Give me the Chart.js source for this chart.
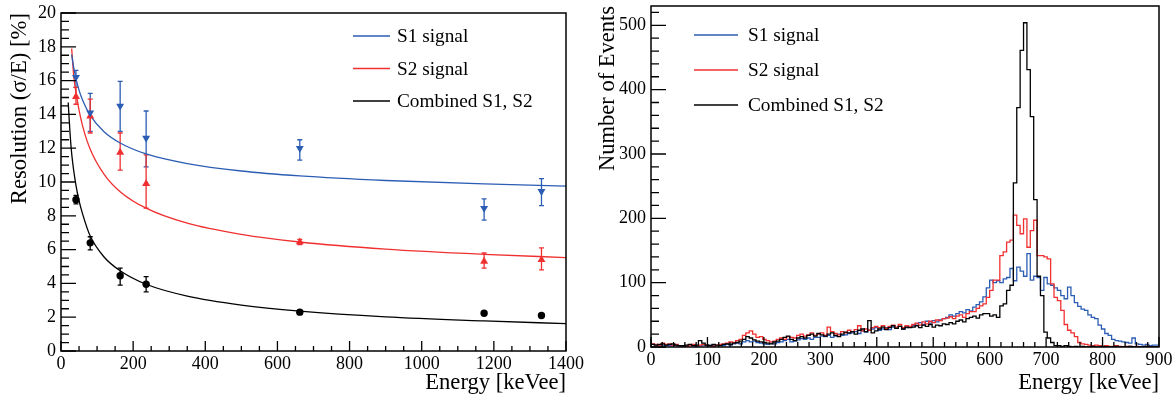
<!DOCTYPE html>
<html>
<head>
<meta charset="utf-8">
<script src="https://cdn.jsdelivr.net/npm/chart.js@4.4.0/dist/chart.umd.min.js"></script>
<style>
html,body{margin:0;padding:0;background:#fff;}
#wrap{position:relative;width:1175px;height:398px;overflow:hidden;}
#leftBox{position:absolute;left:0;top:0;width:590px;height:398px;}
#rightBox{position:absolute;left:590px;top:0;width:585px;height:398px;}
</style>
</head>
<body>
<div id="wrap">
  <div id="leftBox"><canvas id="left" width="590" height="398"></canvas></div>
  <div id="rightBox"><canvas id="right" width="585" height="398"></canvas></div>
</div>
<script>
// ---------------- LEFT PANEL DATA ----------------
const energies = [41.5, 81, 164, 236, 662, 1173, 1332];
const s1Res    = [16.2, 14.1, 14.5, 12.6, 12.0, 8.45, 9.45];
const s1ErrLo  = [15.6, 13.0, 13.0, 10.9, 11.3, 7.75, 8.6];
const s1ErrHi  = [16.6, 15.25, 15.95, 14.2, 12.5, 9.0, 10.2];
const s2Res    = [15.05, 13.9, 11.75, 9.9, 6.45, 5.3, 5.4];
const s2ErrLo  = [14.6, 12.9, 10.7, 8.45, 6.3, 4.9, 4.8];
const s2ErrHi  = [15.6, 14.9, 12.9, 11.6, 6.6, 5.8, 6.1];
const combRes   = [8.95, 6.4, 4.45, 3.95, 2.3, 2.23, 2.1];
const combErrLo = [8.7, 5.98, 3.9, 3.5, 2.2, 2.15, 2.0];
const combErrHi = [9.2, 6.76, 4.9, 4.4, 2.4, 2.3, 2.2];

// fit curves
const s1FitE = [29.6, 35, 41.5, 50, 60, 81, 120, 164, 236, 350, 500, 662, 900, 1173, 1400];
const s1FitR = [17.54, 16.81, 16.12, 15.44, 14.83, 13.94, 12.96, 12.31, 11.66, 11.09, 10.65, 10.36, 10.09, 9.885, 9.76];
const s2FitE = [29.6, 35, 41.5, 50, 60, 81, 120, 164, 236, 350, 500, 662, 900, 1173, 1400];
const s2FitR = [17.9, 16.35, 15.3, 14.25, 13.31, 11.94, 10.44, 9.43, 8.45, 7.56, 6.9, 6.45, 6.03, 5.72, 5.53];
const combFitE = [20, 25, 30, 41.5, 50, 60, 81, 120, 164, 236, 350, 500, 662, 900, 1173, 1400];
const combFitR = [14.7, 12.9, 11.6, 9.8, 8.9, 8.1, 6.8, 5.55, 4.75, 3.95, 3.25, 2.72, 2.36, 2.02, 1.78, 1.62];

const leftXTicks = [0, 200, 400, 600, 800, 1000, 1200, 1400];
const leftYTicks = [0, 2, 4, 6, 8, 10, 12, 14, 16, 18, 20];

// ---------------- RIGHT PANEL DATA ----------------
const binWidth = 6;       // keVee per bin
const histStart = 0;
const s1Counts = [
 10,4,3,2,3,2,2,3,2,1,
 1,2,3,2,1,2,3,2,3,2,
 2,3,2,4,3,5,6,5,8,10,
 8,9,7,6,5,4,6,5,7,8,
 10,12,8,9,11,13,12,14,12,15,
 15,17,16,18,15,17,20,18,19,21,
 22,24,21,25,23,26,28,30,
 26,28,30,27,31,29,32,28,30,31,
 33,36,38,35,40,37,41,39,42,44,
 46,50,48,52,55,53,58,56,
 62,66,70,78,92,
 104,100,103,100,106,108,122,
 103,124,118,110,145,104,110,108,88,108,98,96,
 92,88,80,75,93,80,69,63,59,57,
 50,46,44,34,28,21,18,12,10,9,8,7,6,14,5,4,3,4,2,3
];
const s2Counts = [
 6,5,4,3,6,4,5,3,4,2,
 2,1,3,4,2,3,4,3,2,1,
 3,4,5,6,8,7,10,12,18,22,
 25,20,15,16,12,10,8,9,12,14,
 12,16,15,14,18,20,17,19,22,18,
 20,22,18,31,24,21,19,24,22,26,
 24,27,33,25,28,26,30,32,
 30,33,29,32,34,31,35,30,33,32,
 35,37,34,39,36,40,38,42,41,44,
 45,47,44,48,50,46,52,55,
 55,60,64,67,77,
 88,104,104,142,148,163,166,
 205,189,176,199,155,181,197,142,142,140,137,98,
 77,72,57,35,26,22,16,7,5,4,
 3,2,3,2,1,2,1,1,2,1,0,1,1,0,1,0,0,1,0,0
];
const combCounts = [
 9,4,3,4,5,3,4,5,3,2,
 2,3,4,2,3,10,6,3,2,4,
 3,2,4,5,4,6,7,9,12,16,
 14,11,9,8,7,6,5,8,9,12,
 15,17,12,10,14,16,14,18,20,17,
 21,19,17,20,22,18,16,20,23,22,
 24,20,26,28,24,41,22,25,
 28,31,27,30,33,29,32,28,31,30,
 31,33,30,34,32,35,31,34,33,36,
 35,38,36,40,42,39,44,46,
 48,45,50,52,52,
 48,50,46,64,67,88,96,
 255,372,461,504,431,358,229,110,80,23,14,7,
 2,2,1,2,1,0,1,0,1,0,
 0,1,0,0,1,0,0,0,1,0,0,0,1,0,0,0,0,1,0,0
];
const rightXTicks = [0, 100, 200, 300, 400, 500, 600, 700, 800, 900];
const rightYTicks = [0, 100, 200, 300, 400, 500];

// ---------------- STYLE ----------------
const FONT = '"Liberation Serif", "Times New Roman", serif';
const BLUE = '#2c5db4';
const RED = '#f03030';
const BLACK = '#000000';

// ---------------- PLUGINS ----------------
const rootFrame = {
  id: 'rootFrame',
  afterDatasetsDraw(chart, args, opts) {
    const ctx = chart.ctx, a = chart.chartArea;
    ctx.save();
    ctx.strokeStyle = '#000';
    ctx.lineWidth = 1.3;
    ctx.beginPath();
    const xs = chart.scales.x, ys = chart.scales.y;
    const nx = Math.floor((xs.max - xs.min) / opts.x.minor + 1e-9);
    for (let k = 0; k <= nx; k++) {
      const v = xs.min + k * opts.x.minor;
      const r = v / opts.x.major;
      const major = Math.abs(r - Math.round(r)) < 1e-6;
      const p = xs.getPixelForValue(v);
      ctx.moveTo(p, a.bottom);
      ctx.lineTo(p, a.bottom - (major ? opts.x.majLen : opts.x.minLen));
    }
    const ny = Math.floor((ys.max - ys.min) / opts.y.minor + 1e-9);
    for (let k = 0; k <= ny; k++) {
      const v = ys.min + k * opts.y.minor;
      const r = v / opts.y.major;
      const major = Math.abs(r - Math.round(r)) < 1e-6;
      const p = ys.getPixelForValue(v);
      ctx.moveTo(a.left, p);
      ctx.lineTo(a.left + (major ? opts.y.majLen : opts.y.minLen), p);
    }
    ctx.stroke();
    ctx.lineWidth = 1.5;
    ctx.strokeRect(a.left, a.top, a.right - a.left, a.bottom - a.top);
    ctx.restore();
  }
};

const errorBars = {
  id: 'errorBars',
  beforeDatasetsDraw(chart) {
    const ctx = chart.ctx;
    const xs = chart.scales.x, ys = chart.scales.y;
    chart.data.datasets.forEach((ds) => {
      if (!ds.errLo) return;
      ctx.save();
      ctx.strokeStyle = ds.borderColor;
      ctx.lineWidth = 1.3;
      ctx.beginPath();
      ds.data.forEach((pt, j) => {
        const x = xs.getPixelForValue(pt.x);
        const y1 = ys.getPixelForValue(ds.errLo[j]);
        const y2 = ys.getPixelForValue(ds.errHi[j]);
        ctx.moveTo(x, y1); ctx.lineTo(x, y2);
        ctx.moveTo(x - 2.5, y1); ctx.lineTo(x + 2.5, y1);
        ctx.moveTo(x - 2.5, y2); ctx.lineTo(x + 2.5, y2);
      });
      ctx.stroke();
      ctx.restore();
    });
  }
};

const rootLegend = {
  id: 'rootLegend',
  afterDraw(chart, args, opts) {
    const ctx = chart.ctx;
    const items = chart.data.datasets.filter(d => d.inLegend);
    ctx.save();
    ctx.font = opts.fontSize + 'px ' + FONT;
    ctx.textBaseline = 'middle';
    ctx.textAlign = 'left';
    items.forEach((d, k) => {
      const y = opts.y + k * opts.rowH;
      ctx.strokeStyle = d.borderColor;
      ctx.lineWidth = 1.4;
      ctx.beginPath();
      ctx.moveTo(opts.x, y); ctx.lineTo(opts.x + opts.lineLen, y);
      ctx.stroke();
      ctx.fillStyle = '#000';
      ctx.fillText(d.label, opts.x + opts.lineLen + opts.gap, y + 1);
    });
    ctx.restore();
  }
};

function zip(xs, ys) { return xs.map((x, i) => ({ x: x, y: ys[i] })); }
function histPoints(counts) {
  const pts = counts.map((c, i) => ({ x: histStart + i * binWidth, y: c }));
  pts.push({ x: histStart + counts.length * binWidth, y: counts[counts.length - 1] });
  return pts;
}

function axisX(min, max, ticks, xHeight, padLbl) {
  return {
    type: 'linear', min: min, max: max,
    grid: { display: false, drawTicks: false },
    border: { display: false },
    afterBuildTicks: (s) => { s.ticks = ticks.map(v => ({ value: v })); },
    afterFit: (s) => { s.height = xHeight; s.paddingLeft = 0; s.paddingRight = 0; },
    ticks: { color: '#000', font: { family: FONT, size: 18 }, padding: padLbl, maxRotation: 0, autoSkip: false,
             callback: (v) => String(v) },
    title: { display: true, text: 'Energy [keVee]', align: 'end', color: '#000',
             font: { family: FONT, size: 22.6 }, padding: { top: 0, bottom: 1 } }
  };
}
function axisY(min, max, ticks, title, titlePad, titleSize) {
  return {
    type: 'linear', min: min, max: max,
    grid: { display: false, drawTicks: false },
    border: { display: false },
    afterBuildTicks: (s) => { s.ticks = ticks.map(v => ({ value: v })); },
    afterFit: (s) => { s.width = 61; s.paddingTop = 0; s.paddingBottom = 0; },
    ticks: { color: '#000', font: { family: FONT, size: 18 }, padding: 5, autoSkip: false,
             callback: (v) => String(v) },
    title: { display: true, text: title, align: 'end', color: '#000',
             font: { family: FONT, size: titleSize }, padding: { top: titlePad, bottom: 0 } }
  };
}

// ---------------- LEFT CHART ----------------
new Chart(document.getElementById('left'), {
  type: 'scatter',
  data: {
    datasets: [
      { label: 'S1 signal', type: 'line', inLegend: true, data: zip(s1FitE, s1FitR), borderColor: BLUE,
        borderWidth: 1.3, pointRadius: 0, fill: false, cubicInterpolationMode: 'monotone', order: 5 },
      { label: 'S2 signal', type: 'line', inLegend: true, data: zip(s2FitE, s2FitR), borderColor: RED,
        borderWidth: 1.3, pointRadius: 0, fill: false, cubicInterpolationMode: 'monotone', order: 5 },
      { label: 'Combined S1, S2', type: 'line', inLegend: true, data: zip(combFitE, combFitR), borderColor: BLACK,
        borderWidth: 1.3, pointRadius: 0, fill: false, cubicInterpolationMode: 'monotone', order: 5 },
      { label: 'S1 data', data: zip(energies, s1Res), errLo: s1ErrLo, errHi: s1ErrHi, borderColor: BLUE,
        backgroundColor: BLUE, pointStyle: 'triangle', rotation: 180, pointRadius: 4.6, borderWidth: 0, order: 1 },
      { label: 'S2 data', data: zip(energies, s2Res), errLo: s2ErrLo, errHi: s2ErrHi, borderColor: RED,
        backgroundColor: RED, pointStyle: 'triangle', pointRadius: 4.6, borderWidth: 0, order: 1 },
      { label: 'Combined data', data: zip(energies, combRes), errLo: combErrLo, errHi: combErrHi, borderColor: BLACK,
        backgroundColor: BLACK, pointStyle: 'circle', pointRadius: 3.7, borderWidth: 0, order: 1 }
    ]
  },
  options: {
    responsive: false, animation: false,
    layout: { padding: { left: 0, top: 13, right: 24, bottom: 0 } },
    scales: {
      x: axisX(0, 1400, leftXTicks, 47, 2),
      y: axisY(0, 20, leftYTicks, 'Resolution (σ/E) [%]', 6, 22.7)
    },
    plugins: {
      legend: { display: false }, tooltip: { enabled: false },
      rootFrame: { x: { major: 200, minor: 50, majLen: 10, minLen: 5 }, y: { major: 2, minor: 0.5, majLen: 15, minLen: 8 } },
      rootLegend: { x: 353, y: 36, rowH: 32.5, lineLen: 37, gap: 7, fontSize: 19.3 }
    }
  },
  plugins: [errorBars, rootFrame, rootLegend]
});

// ---------------- RIGHT CHART ----------------
new Chart(document.getElementById('right'), {
  type: 'line',
  data: {
    datasets: [
      { label: 'S1 signal', inLegend: true, data: histPoints(s1Counts), borderColor: BLUE, borderWidth: 1.3,
        pointRadius: 0, stepped: 'after', fill: false, order: 3 },
      { label: 'S2 signal', inLegend: true, data: histPoints(s2Counts), borderColor: RED, borderWidth: 1.3,
        pointRadius: 0, stepped: 'after', fill: false, order: 2 },
      { label: 'Combined S1, S2', inLegend: true, data: histPoints(combCounts), borderColor: BLACK, borderWidth: 1.3,
        pointRadius: 0, stepped: 'after', fill: false, order: 1 }
    ]
  },
  options: {
    responsive: false, animation: false, parsing: true,
    layout: { padding: { left: 0, top: 6, right: 16, bottom: 0 } },
    scales: {
      x: axisX(0, 900, rightXTicks, 51, 2),
      y: axisY(0, 530, rightYTicks, 'Number of Events', 5, 22.5)
    },
    plugins: {
      legend: { display: false }, tooltip: { enabled: false },
      rootFrame: { x: { major: 100, minor: 20, majLen: 10, minLen: 5 }, y: { major: 100, minor: 20, majLen: 15, minLen: 8 } },
      rootLegend: { x: 104, y: 35, rowH: 35, lineLen: 44, gap: 10, fontSize: 19.3 }
    }
  },
  plugins: [rootFrame, rootLegend]
});
</script>
</body>
</html>
